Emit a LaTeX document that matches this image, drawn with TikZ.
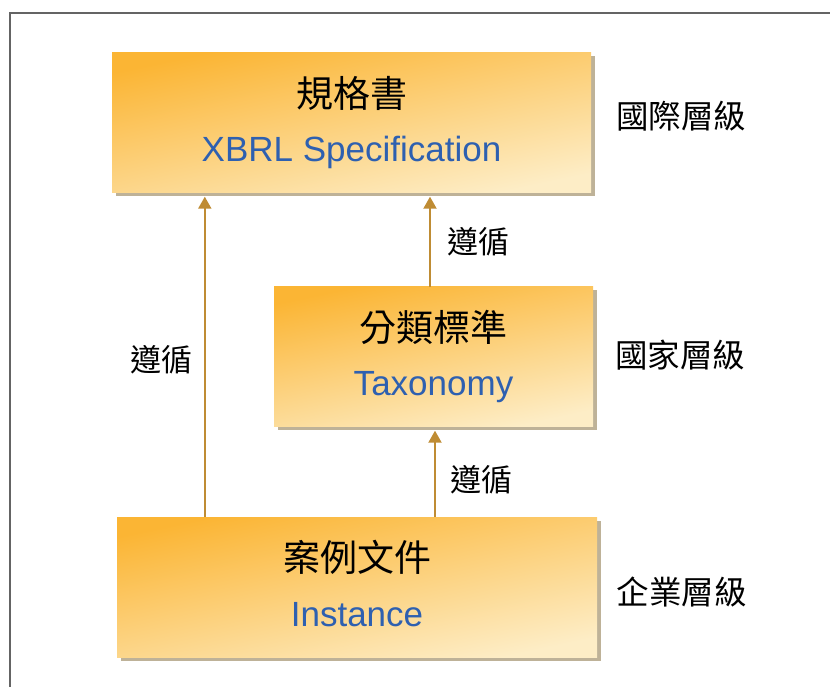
\documentclass[tikz,border=0pt]{standalone}
\usepackage{fontspec}
\setmainfont{Liberation Sans}
\newfontfamily\cjk{Noto Sans CJK TC}
\usepackage{xcolor}
\usepackage{tikz}
\usetikzlibrary{arrows.meta, shadows}

\definecolor{deeporange}{RGB}{251,181,52}
\definecolor{paleorange}{RGB}{253,237,198}
\definecolor{shadowtan}{RGB}{190,178,152}
\definecolor{specblue}{RGB}{46,96,176}
\definecolor{followline}{RGB}{191,140,52}
\definecolor{framegray}{RGB}{100,100,100}

\tikzset{
  levelbox/.style={rectangle, minimum height=140pt, inner sep=0pt,
    top color=deeporange, bottom color=paleorange, shading angle=12,
    general shadow={fill=shadowtan, shadow xshift=3.5pt, shadow yshift=-3.5pt}},
  cjktitle/.style={inner sep=0pt, font=\cjk\fontsize{37}{40}\selectfont},
  entitle/.style={inner sep=0pt, anchor=base, text=specblue, font=\fontsize{35}{38}\selectfont},
  levellabel/.style={inner sep=0pt, font=\cjk\fontsize{32.5}{36}\selectfont},
  follow/.style={draw=followline, line width=2pt, -{Triangle[width=13pt,length=12pt]}},
  followtext/.style={inner sep=0pt, font=\cjk\fontsize{31}{34}\selectfont}
}

\begin{document}
\begin{tikzpicture}[x=1pt, y=1pt]
    \useasboundingbox (0,0) rectangle (830,686);
    \clip (0,0) rectangle (830,686);
    \draw[framegray, line width=2pt] (10,673) rectangle (850,-20);

    % boxes
    \node[levelbox, minimum width=479pt] (spec) at (351.5,563) {};
    \node[levelbox, minimum width=319pt] (tax) at (433.5,329) {};
    \node[levelbox, minimum width=480pt] (inst) at (357,99) {};

    \node[cjktitle] (specT) at ([yshift=29.5]spec.center) {規格書};
    \node[entitle] (specE) at ([yshift=-39]spec.center) {XBRL Specification};
    \node[cjktitle] (taxT) at ([yshift=29.5]tax.center) {分類標準};
    \node[entitle] (taxE) at ([yshift=-39]tax.center) {Taxonomy};
    \node[cjktitle] (instT) at ([yshift=29.5]inst.center) {案例文件};
    \node[entitle] (instE) at ([yshift=-39]inst.center) {Instance};

    % levels
    \node[levellabel] (intl) at (681,570) {國際層級};
    \node[levellabel] (natl) at (680,331) {國家層級};
    \node[levellabel] (corp) at (681.5,94) {企業層級};

    % arrows
    \draw[follow] ([xshift=88pt]inst.north west) -- ([xshift=93pt,yshift=-3.5pt]spec.south west)
        node[followtext, pos=0.49, left=11pt] (f1) {遵循};
    \draw[follow] ([xshift=-3.5pt]tax.north) -- ([xshift=78.5pt,yshift=-3.5pt]spec.south)
        node[followtext, midway, right=16pt] (f2) {遵循};
    \draw[follow] ([xshift=78pt]inst.north) -- ([xshift=1.5pt,yshift=-3.5pt]tax.south)
        node[followtext, pos=0.43, right=14pt] (f3) {遵循};
\end{tikzpicture}
\end{document}
